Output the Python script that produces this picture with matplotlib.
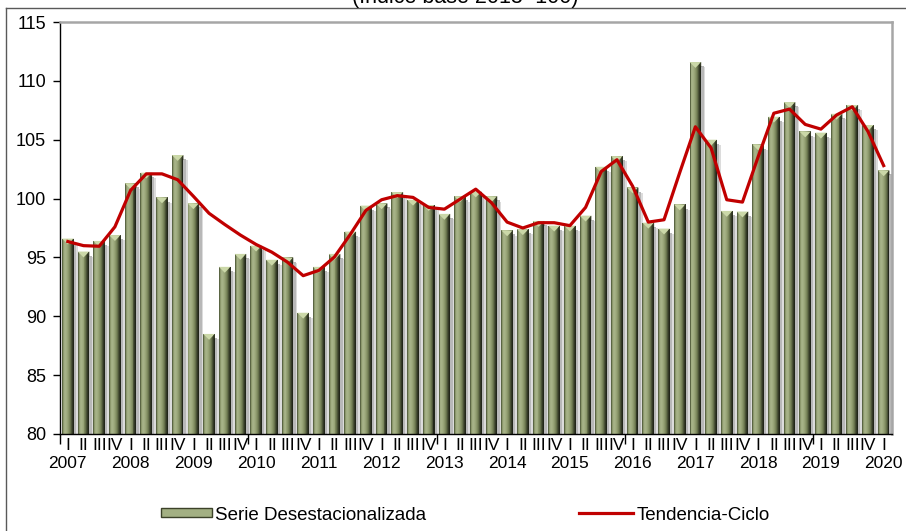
import matplotlib
matplotlib.use('Agg')
import matplotlib.pyplot as plt
import numpy as np
from matplotlib.patches import Patch
from matplotlib.lines import Line2D

# ---------------- data ----------------
years = [str(y) for y in range(2007, 2021)]
quarters = ['I', 'II', 'III', 'IV'] * 13 + ['I']

serie = [96.6, 95.5, 96.4, 96.9,        # 2007
         101.3, 102.2, 100.1, 103.7,    # 2008
         99.6, 88.5, 94.2, 95.3,        # 2009
         96.0, 94.8, 95.0, 90.3,        # 2010
         94.2, 95.3, 97.2, 99.4,        # 2011
         99.6, 100.55, 99.9, 99.45,     # 2012
         98.7, 100.2, 100.6, 100.2,     # 2013
         97.3, 97.4, 98.1, 97.7,        # 2014
         97.7, 98.55, 102.7, 103.6,     # 2015
         100.95, 97.95, 97.45, 99.5,    # 2016
         111.6, 105.0, 98.95, 98.9,     # 2017
         104.6, 106.95, 108.2, 105.7,   # 2018
         105.6, 107.2, 107.95, 106.25,  # 2019
         102.4]                         # 2020

tendencia = [96.35, 96.0, 95.95, 97.6,
             100.7, 102.1, 102.1, 101.6,
             100.2, 98.75, 97.8, 96.9,
             96.1, 95.45, 94.6, 93.45,
             93.9, 95.05, 96.95, 99.0,
             99.9, 100.25, 100.1, 99.25,
             99.1, 99.95, 100.8, 99.65,
             98.0, 97.5, 97.95, 97.95,
             97.7, 99.25, 102.3, 103.3,
             101.05, 98.0, 98.2, 102.2,
             106.1, 104.3, 99.9, 99.7,
             103.55, 107.25, 107.6, 106.3,
             105.9, 107.1, 107.8, 105.7,
             102.8]

title = '(Índice base 2013=100)'
legend_labels = ['Serie Desestacionalizada', 'Tendencia-Ciclo']
y_ticks = [80, 85, 90, 95, 100, 105, 110, 115]

# ---------------- style ----------------
plt.rcParams['font.family'] = ['Liberation Sans', 'DejaVu Sans']

W, H = 906, 531
fig = plt.figure(figsize=(W / 100, H / 100), dpi=100)
fig.patch.set_facecolor('white')

ax_left, ax_right, ax_top, ax_bottom = 60, 891.5, 22, 434
ax = fig.add_axes([ax_left / W, 1 - ax_bottom / H,
                   (ax_right - ax_left) / W, (ax_bottom - ax_top) / H])

x = np.arange(len(serie))
vals = np.array(serie)
base = y_ticks[0]
bw = 0.74

# shadows
ax.bar(x + 0.22, vals - base - 0.45, bottom=base, width=bw + 0.08,
       color='#dcdcdc', linewidth=0, zorder=1)
ax.bar(x + 0.15, vals - base - 0.35, bottom=base, width=bw,
       color='#b8b8b8', linewidth=0, zorder=1.1)

# bar body with horizontal gradient
cols = ['#5a6543', '#8c986c', '#a2ae83', '#a6b287', '#a1ad81', '#98a477',
        '#8b976b', '#7b875c', '#66714b', '#4b5337', '#333925', '#22261a']
n = len(cols)
sw = bw / n
for k, c in enumerate(cols):
    ax.bar(x - bw / 2 + sw * (k + 0.5), vals - base, bottom=base,
           width=sw * 1.05, color=c, linewidth=0, zorder=2)

# bevelled top caps
cap = 0.5
for xi, v in zip(x, vals):
    ax.fill([xi - bw / 2, xi + bw / 2, xi], [v, v, v - cap],
            color='#cbd8a8', lw=0, zorder=3)
    ax.fill([xi + bw * 0.36, xi + bw / 2, xi + bw / 2],
            [v - cap * 0.3, v, v - cap * 0.9],
            color='#3a4029', lw=0, zorder=3)

# trend line
ax.plot(x, tendencia, color='#c00000', lw=2.3, zorder=5, solid_joinstyle='round')

ax.set_xlim(-0.5, len(serie) - 0.5)
ax.set_ylim(y_ticks[0], y_ticks[-1])
ax.set_yticks(y_ticks)
ax.set_yticklabels([str(t) for t in y_ticks])
ax.tick_params(axis='y', direction='out', length=5, width=1, labelsize=13,
               pad=5, colors='black')
ax.set_xticks([-0.5 + 12 * k for k in range(5)])
ax.set_xticklabels([])
ax.tick_params(axis='x', direction='out', length=7, width=1, colors='black')

for s in ['top', 'right']:
    ax.spines[s].set_color('#a6a6a6')
    ax.spines[s].set_linewidth(1.8)
for s in ['left', 'bottom']:
    ax.spines[s].set_color('black')
    ax.spines[s].set_linewidth(1.0)
ax.spines['bottom'].set_zorder(6)

tr = ax.get_xaxis_transform()
for i, q in enumerate(quarters):
    ax.text(i, -12 / 412, q, transform=tr, ha='center', va='center',
            fontsize=12.5, clip_on=False)
for j, yl in enumerate(years):
    ax.text(4 * j, -29 / 412, yl, transform=tr, ha='center', va='center',
            fontsize=12.5, clip_on=False)

# legends
fs_leg = 13.5
em = fs_leg * 100 / 72
leg1 = fig.legend(handles=[Patch(facecolor='#a3b083', edgecolor='#3c4229', lw=1)],
                  labels=[legend_labels[0]], loc='center left',
                  bbox_to_anchor=(161 / W, 1 - 515 / H), frameon=False,
                  borderpad=0, borderaxespad=0, handlelength=51 / em,
                  handleheight=0.38, handletextpad=0.15, fontsize=fs_leg)
leg2 = fig.legend(handles=[Line2D([], [], color='#c00000', lw=2.3)],
                  labels=[legend_labels[1]], loc='center left',
                  bbox_to_anchor=(579 / W, 1 - 515 / H), frameon=False,
                  borderpad=0, borderaxespad=0, handlelength=54 / em,
                  handletextpad=0.2, fontsize=fs_leg)

# outer frame lines
fy = 1 - 7.5 / H
fx = 6 / W
fig.add_artist(Line2D([fx, 1], [fy, fy], transform=fig.transFigure,
                      color='#595959', lw=1))
fig.add_artist(Line2D([fx, fx], [0, fy], transform=fig.transFigure,
                      color='#595959', lw=1))

# title (partly cut off at the top, as in the reference)
fig.text(465 / W, 1 - 3 / H, title, ha='center', va='baseline', fontsize=15.5)

fig.savefig('out.png', dpi=100)
